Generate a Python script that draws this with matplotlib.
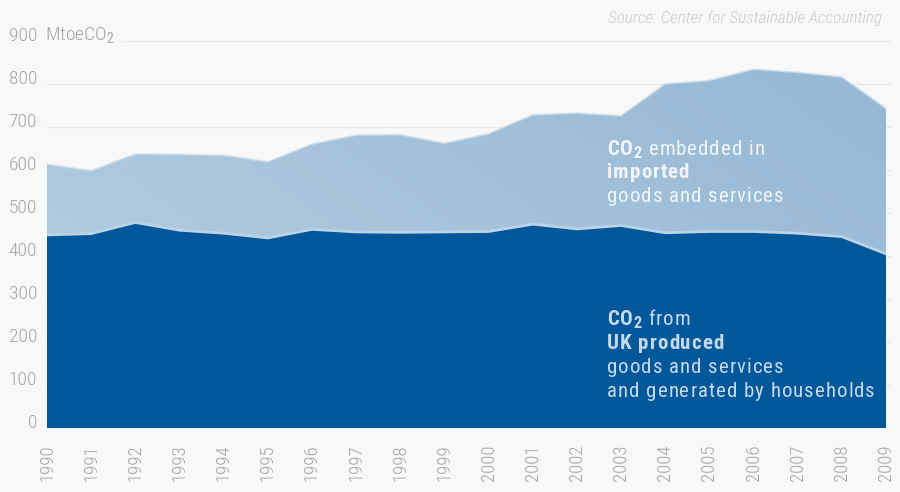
import matplotlib
matplotlib.use("Agg")
import numpy as np
import matplotlib.pyplot as plt
from matplotlib.colors import LinearSegmentedColormap
from matplotlib.font_manager import FontProperties
from matplotlib.transforms import blended_transform_factory

# UK consumption-based CO2 emissions, MtoeCO2
years = [1990, 1991, 1992, 1993, 1994, 1995, 1996, 1997, 1998, 1999,
         2000, 2001, 2002, 2003, 2004, 2005, 2006, 2007, 2008, 2009]
uk_produced = [449, 452, 478, 460, 453, 442, 462, 456, 455, 456,
               457, 474, 463, 471, 454, 457, 457, 453, 445, 405]
imported = [164, 146, 159, 176, 181, 177, 198, 225, 227, 206,
            227, 254, 269, 255, 346, 351, 377, 374, 371, 338]
y_ticks = [0, 100, 200, 300, 400, 500, 600, 700, 800, 900]
x_labels = [str(y) for y in years]

FONT = ["Roboto Condensed", "DejaVu Sans"]
plt.rcParams["font.family"] = FONT
plt.rcParams["mathtext.fontset"] = "custom"
plt.rcParams["mathtext.rm"] = "Roboto Condensed"
plt.rcParams["mathtext.bf"] = "Roboto Condensed:bold"

BG = "#f8f8f8"
DARK = "#00579a"
GRID = "#e9e9e9"
TICK = "#a3a3a3"

fig = plt.figure(figsize=(9, 4.92), dpi=100, facecolor=BG)
W, H = 900, 492
ax = fig.add_axes([47 / W, (H - 428) / H, 839 / W, 387 / H])
ax.set_facecolor(BG)
for s in ax.spines.values():
    s.set_visible(False)

yr = np.array(years, dtype=float)
prod = np.array(uk_produced, dtype=float)
total = prod + np.array(imported, dtype=float)

# horizontal gridlines behind the areas
for v in y_ticks[1:]:
    x0 = 75 / 839 if v == 900 else 0.0
    ax.axhline(v, xmin=x0, xmax=1.005, color=GRID, lw=1, zorder=0, clip_on=False)

# imported share: filled with a soft diagonal gradient
band = ax.fill_between(yr, prod, total, facecolor="none", edgecolor="none", zorder=1)
gx, gy = np.meshgrid(np.linspace(0, 1, 300), np.linspace(0, 1, 300))
grad = 0.6 * gx + 0.4 * (1 - gy)
cmap = LinearSegmentedColormap.from_list("imp", ["#b7cfe3", "#94b7d3"])
img = ax.imshow(grad, extent=[1990, 2009, 0, 900], origin="upper",
                aspect="auto", cmap=cmap, zorder=1, interpolation="bilinear")
img.set_clip_path(band.get_paths()[0], transform=ax.transData)
ax.plot(yr, total, color="#c9dbea", lw=1.2, zorder=2, alpha=0.8)

# domestic share
ax.fill_between(yr, 0, prod, facecolor=DARK, edgecolor="none", zorder=3)
ax.plot(yr, prod, color="#bcd3e6", lw=2.0, zorder=4, solid_joinstyle="round")

ax.set_xlim(1990, 2009)
ax.set_ylim(0, 900)
ax.set_yticks([])
ax.set_xticks(yr)
ax.set_xticklabels(x_labels, rotation=90, fontsize=13.5, color=TICK,
                   fontweight="light", va="top")
ax.tick_params(axis="x", length=0, pad=12)

# y labels sit on their gridlines
tr = blended_transform_factory(fig.transFigure, ax.transData)
for v in y_ticks:
    ax.text(37 / W, v, str(v), transform=tr, ha="right", va="baseline",
            fontsize=14, color=TICK, fontweight="light", clip_on=False)
ax.text(45 / W, 900, r"MtoeCO$_2$", transform=tr, ha="left", va="baseline",
        fontsize=14, color=TICK, fontweight="light", clip_on=False)

fig.text(882 / W, 1 - 18 / H, "Source: Center for Sustainable Accounting",
         ha="right", va="center", fontsize=12.4, style="italic",
         fontweight="light", color="#cbcbcb")

# series labels, set with a little letter spacing
renderer = fig.canvas.get_renderer()
px_per_pt = fig.dpi / 72.0


def tracked_line(x, y, segments, color, track=1.0, size=15):
    """segments: list of (text, weight, scale, dy_px)."""
    for text, weight, scale, dy in segments:
        fp = FontProperties(family=FONT, weight=weight, size=size * scale)
        for i, ch in enumerate(text):
            pre = text[:i]
            w = renderer.get_text_width_height_descent(pre, fp, ismath=False)[0] if pre else 0.0
            cx = x + w + i * track
            fig.text(cx / W, 1 - (y + dy) / H, ch, ha="left", va="baseline",
                     fontproperties=fp, color=color)
        full = renderer.get_text_width_height_descent(text, fp, ismath=False)[0]
        x += full + len(text) * track


def co2(rest):
    return [("CO", "bold", 1.0, 0), ("2", "bold", 0.78, 2.5), (rest, "normal", 1.0, 0)]


top_col = "#f1f5f9"
tracked_line(607, 155, co2(" embedded in"), top_col)
tracked_line(607, 178.5, [("imported", "bold", 1.0, 0)], top_col)
tracked_line(607, 202, [("goods and services", "normal", 1.0, 0)], top_col)

bot_col = "#c6d9ea"
tracked_line(607, 325, co2(" from"), bot_col)
tracked_line(607, 349, [("UK produced", "bold", 1.0, 0)], bot_col)
tracked_line(607, 373, [("goods and services", "normal", 1.0, 0)], bot_col)
tracked_line(607, 397, [("and generated by households", "normal", 1.0, 0)], bot_col)

fig.savefig("out.png", dpi=100, facecolor=BG)
